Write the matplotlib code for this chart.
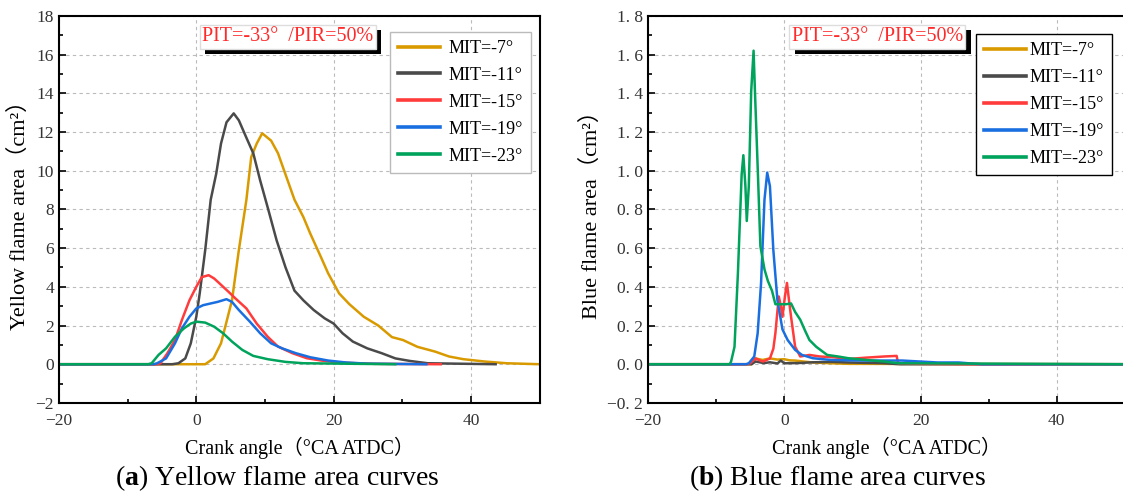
import numpy as np
import matplotlib
matplotlib.use('Agg')
import matplotlib.pyplot as plt
from matplotlib.ticker import MultipleLocator, FuncFormatter
from matplotlib import patheffects

plt.rcParams['font.family'] = ['Liberation Serif', 'Noto Sans CJK SC', 'DejaVu Sans']
plt.rcParams['axes.unicode_minus'] = True
plt.rcParams['mathtext.fontset'] = 'custom'
plt.rcParams['mathtext.bf'] = 'Liberation Serif:bold'
plt.rcParams['mathtext.rm'] = 'Liberation Serif'

labels = ['MIT=-7°', 'MIT=-11°', 'MIT=-15°', 'MIT=-19°', 'MIT=-23°']
colors = ['#D99A00', '#4A4A4A', '#FF3B3B', '#1A6FE0', '#00A35C']

# (a) yellow flame area, cm^2
y7_x = [-20, 1.3, 2.5, 3.6, 5.2, 6.2, 7.3, 8.0, 8.8, 9.6, 10.9, 11.9, 13.0, 14.3, 15.6, 16.6,
        18.2, 19.2, 20.8, 22.3, 24.4, 26.5, 28.5, 30.1, 32.2, 34.8, 36.8, 38.9, 42.0, 45.2, 50.0]
y7_y = [0, 0, 0.3, 1.08, 3.3, 5.9, 8.5, 10.7, 11.4, 11.93, 11.55, 10.9, 9.8, 8.5, 7.6, 6.75,
        5.5, 4.7, 3.66, 3.1, 2.45, 2.0, 1.4, 1.25, 0.9, 0.65, 0.4, 0.26, 0.14, 0.05, 0]
y11_x = [-20, -3.5, -2.6, -1.6, -0.8, 0, 0.5, 1.3, 2.1, 2.9, 3.6, 4.4, 5.45, 6.2, 7.3, 8.3, 9.3,
         10.4, 11.7, 13.0, 14.3, 15.6, 17.1, 18.7, 20.0, 21.3, 22.8, 24.9, 27.0, 29.0, 31.1, 33.7, 43.6]
y11_y = [0, 0, 0.05, 0.3, 1.08, 2.45, 3.66, 5.9, 8.5, 9.84, 11.4, 12.5, 12.96, 12.6, 11.7, 10.9, 9.5,
         8.1, 6.4, 5.0, 3.8, 3.3, 2.8, 2.37, 2.1, 1.6, 1.17, 0.82, 0.57, 0.3, 0.17, 0.05, 0]
y15_x = [-20, -5.8, -5.2, -4.2, -3.1, -2.1, -1.0, 0, 0.8, 1.8, 2.6, 3.4, 4.7, 5.7, 7.3, 8.8, 10.4,
         11.9, 14.0, 16.1, 18.2, 20.8, 23.4, 26.0, 35.6]
y15_y = [0, 0, 0.05, 0.57, 1.25, 2.28, 3.3, 4.0, 4.5, 4.6, 4.43, 4.17, 3.74, 3.4, 2.88, 2.1, 1.42,
         0.91, 0.57, 0.31, 0.19, 0.09, 0.05, 0.02, 0]
y19_x = [-20, -6.2, -5.7, -4.4, -3.1, -2.1, -1.0, 0, 1.0, 2.1, 3.1, 4.4, 5.2, 6.2, 7.8, 9.3, 10.9,
         12.5, 14.5, 16.6, 19.2, 21.8, 24.9, 33.5]
y19_y = [0, 0, 0.05, 0.3, 1.08, 1.85, 2.45, 2.88, 3.05, 3.14, 3.22, 3.36, 3.22, 2.8, 2.2, 1.6, 1.08,
         0.82, 0.57, 0.36, 0.19, 0.09, 0.03, 0]
y23_x = [-20, -7.0, -6.5, -5.5, -4.4, -3.1, -1.8, -0.8, 0, 1.3, 2.6, 3.9, 5.2, 6.7, 8.3, 10.4,
         13.0, 15.6, 29.0]
y23_y = [0, 0, 0.05, 0.48, 0.82, 1.42, 1.85, 2.1, 2.2, 2.15, 1.94, 1.6, 1.17, 0.74, 0.43, 0.26,
         0.12, 0.05, 0]

# (b) blue flame area, cm^2
b7_x = [-20, -4.8, -4.2, -3.2, -2.1, -1.0, 0, 0.8, 1.6, 2.8, 4.2, 6.8, 9.4, 50]
b7_y = [0, 0, 0.03, 0.022, 0.03, 0.024, 0.026, 0.02, 0.019, 0.014, 0.009, 0.005, 0.002, 0]
b11_x = [-20, -4.8, -4.2, -3.0, -2.1, -1.0, -0.5, 0, 2.0, 4.2, 7.0, 9.4, 12.0, 14.7, 17.0, 50]
b11_y = [0, 0, 0.014, 0.006, 0.01, 0.004, 0.019, 0.005, 0.006, 0.01, 0.012, 0.009, 0.007, 0.005, 0, 0]
b15_x = [-20, -5.4, -5.0, -4.2, -3.6, -3.1, -2.1, -1.6, -1.3, -0.8, -0.5, -0.26, 0.1, 0.4, 0.7,
         1.0, 1.6, 2.35, 3.7, 5.2, 7.3, 9.4, 12.0, 14.7, 16.5, 16.7, 19.9, 29.0, 50]
b15_y = [0, 0, 0.005, 0.03, 0.02, 0.014, 0.03, 0.08, 0.16, 0.35, 0.3, 0.245, 0.35, 0.42, 0.33,
         0.245, 0.09, 0.04, 0.048, 0.04, 0.036, 0.027, 0.034, 0.04, 0.043, 0.005, 0.002, 0, 0]
b19_x = [-20, -5.6, -5.2, -4.4, -3.9, -3.4, -2.9, -2.5, -2.1, -1.6, -1.0, -0.26, 0.5, 1.6, 2.6,
         4.2, 6.8, 12.0, 17.3, 19.9, 22.5, 25.6, 27.7, 29.0, 50]
b19_y = [0, 0, 0.005, 0.04, 0.16, 0.42, 0.85, 0.99, 0.92, 0.59, 0.33, 0.18, 0.125, 0.074, 0.048,
         0.031, 0.022, 0.019, 0.019, 0.014, 0.009, 0.009, 0.003, 0, 0]
b23_x = [-20, -8.0, -7.8, -7.3, -6.8, -6.25, -6.0, -5.7, -5.5, -5.2, -4.85, -4.5, -4.3, -3.9,
         -3.5, -2.9, -2.4, -1.8, -1.3, -0.5, 0.26, 1.0, 1.6, 2.35, 3.1, 3.7, 4.7, 6.3, 7.9, 9.4,
         12.0, 14.7, 16.7, 50]
b23_y = [0, 0, 0.014, 0.09, 0.47, 0.98, 1.08, 0.92, 0.74, 0.92, 1.41, 1.62, 1.41, 1.02,
         0.61, 0.49, 0.43, 0.38, 0.31, 0.31, 0.31, 0.314, 0.27, 0.23, 0.17, 0.125, 0.09, 0.048,
         0.04, 0.031, 0.022, 0.014, 0.005, 0]

yellow_series = [(y7_x, y7_y), (y11_x, y11_y), (y15_x, y15_y), (y19_x, y19_y), (y23_x, y23_y)]
blue_series = [(b7_x, b7_y), (b11_x, b11_y), (b15_x, b15_y), (b19_x, b19_y), (b23_x, b23_y)]

fig = plt.figure(figsize=(11.23, 4.95), dpi=100)
ax1 = fig.add_axes([0.0525, 0.186, 0.428, 0.782])
ax2 = fig.add_axes([0.577, 0.186, 0.4247, 0.782])


def style_axis(ax, ylim, ymajor, yminor, yfmt):
    ax.set_xlim(-20, 50)
    ax.set_ylim(*ylim)
    ax.xaxis.set_major_locator(MultipleLocator(20))
    ax.xaxis.set_minor_locator(MultipleLocator(10))
    ax.yaxis.set_major_locator(MultipleLocator(ymajor))
    ax.yaxis.set_minor_locator(MultipleLocator(yminor))
    ax.yaxis.set_major_formatter(FuncFormatter(yfmt))
    ax.xaxis.set_major_formatter(FuncFormatter(lambda v, p: f'{v:.0f}'.replace('-', '\u2212')))
    ax.tick_params(which='both', direction='in', labelsize=12.5, colors='black',
                   labelcolor='#333333', width=1.2)
    ax.tick_params(which='major', length=5)
    ax.tick_params(which='minor', length=3)
    ax.tick_params(axis='x', which='both', top=False, pad=7)
    ax.tick_params(axis='y', which='both', right=False)
    ax.grid(True, which='major', linestyle=(0, (3, 3)), color='#bbbbbb', linewidth=0.8)
    for s in ax.spines.values():
        s.set_linewidth(1.5)
    ax.set_xlabel('Crank angle（°CA ATDC）', fontsize=14.5, labelpad=6)


def pit_box(ax, x, y):
    t = ax.text(x, y, 'PIT=-33°  /PIR=50%', transform=ax.transAxes, ha='center', va='center',
                fontsize=14.5, color='#FF2A2A',
                bbox=dict(boxstyle='square,pad=0.12', facecolor='white', edgecolor='#dddddd'),
                zorder=6)
    t.get_bbox_patch().set_path_effects([
        patheffects.SimplePatchShadow(offset=(4, -4), shadow_rgbFace='black', alpha=1),
        patheffects.Normal()])


for (xs, ys), c, lab in zip(yellow_series, colors, labels):
    ax1.plot(xs, ys, color=c, lw=1.8, label=lab)
for (xs, ys), c, lab in zip(blue_series, colors, labels):
    ax2.plot(xs, ys, color=c, lw=1.8, label=lab)

style_axis(ax1, (-2, 18), 2, 1, lambda v, p: f'{v:.0f}'.replace('-', '\u2212'))
style_axis(ax2, (-0.2, 1.8), 0.2, 0.1,
           lambda v, p: f'{v:.1f}'.replace('.', '. ').replace('-', '\u2212'))
ax1.set_ylabel('Yellow flame area（cm²）', fontsize=16, labelpad=4)
ax2.set_ylabel('Blue flame area（cm²）', fontsize=16, labelpad=4)

pit_box(ax1, 0.476, 0.946)
pit_box(ax2, 0.481, 0.946)

leg1 = ax1.legend(loc='upper right', bbox_to_anchor=(0.983, 0.959), fontsize=13,
                  frameon=True, fancybox=False, handlelength=2.3, handletextpad=0.5,
                  labelspacing=0.55, borderpad=0.45, borderaxespad=0)
leg1.get_frame().set_edgecolor('#bbbbbb')
leg1.get_frame().set_linewidth(1.0)
leg2 = ax2.legend(loc='upper right', bbox_to_anchor=(0.973, 0.953), fontsize=13,
                  frameon=True, fancybox=False, handlelength=2.3, handletextpad=0.2,
                  labelspacing=0.55, borderpad=0.45, borderaxespad=0)
leg2.get_frame().set_edgecolor('black')
leg2.get_frame().set_linewidth(1.0)
for leg in (leg1, leg2):
    leg.get_frame().set_alpha(1)
    for h in leg.legend_handles:
        h.set_linewidth(2.6)

fig.text(277 / 1123, 1 - 478 / 495, r'($\mathbf{a}$) Yellow flame area curves',
         ha='center', va='center', fontsize=20)
fig.text(837 / 1123, 1 - 478 / 495, r'($\mathbf{b}$) Blue flame area curves',
         ha='center', va='center', fontsize=20)

fig.savefig('out.png', dpi=100)
